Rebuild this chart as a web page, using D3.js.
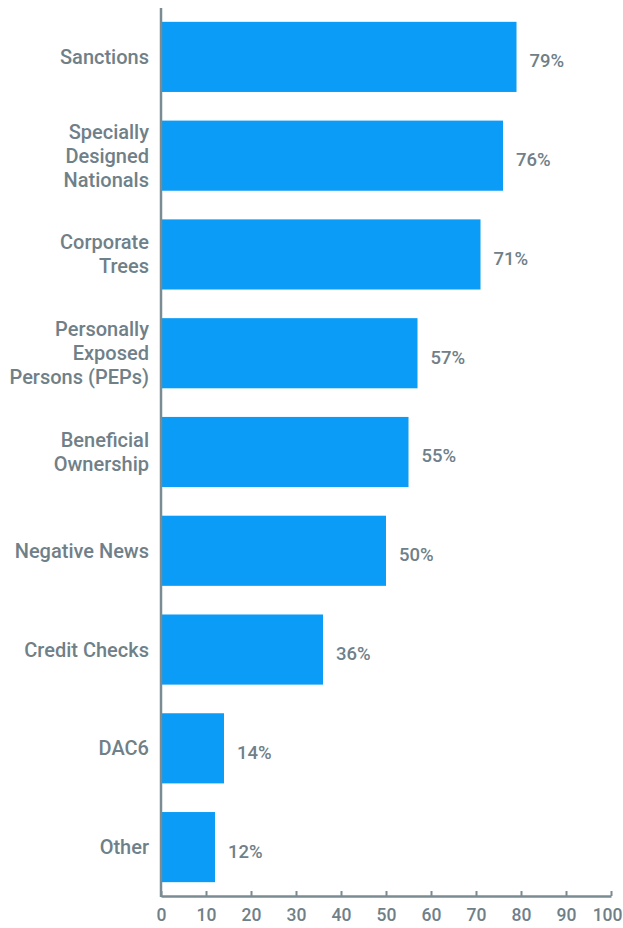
<!DOCTYPE html>
<html>
<head>
<meta charset="utf-8">
<script src="https://cdn.jsdelivr.net/npm/d3@7"></script>
<style>
  body { margin: 0; background: #fff; }
  svg text { font-family: Roboto, "Noto Sans", sans-serif; font-weight: 500; fill: #6f8088; }
</style>
</head>
<body>
<div id="chart"></div>
<script>
// data
var categories = ["Sanctions", "Specially Designed Nationals", "Corporate Trees",
    "Personally Exposed Persons (PEPs)", "Beneficial Ownership", "Negative News",
    "Credit Checks", "DAC6", "Other"];
var labelLines = [["Sanctions"], ["Specially", "Designed", "Nationals"], ["Corporate", "Trees"],
    ["Personally", "Exposed", "Persons (PEPs)"], ["Beneficial", "Ownership"], ["Negative News"],
    ["Credit Checks"], ["DAC6"], ["Other"]];
var values = [79, 76, 71, 57, 55, 50, 36, 14, 12];
var xTicks = [0, 10, 20, 30, 40, 50, 60, 70, 80, 90, 100];

var W = 623, H = 928;
var svg = d3.select('#chart').append('svg')
    .attr('width', W)
    .attr('height', H);

var x = d3.scaleLinear().domain([0, 100]).range([161, 611]);
var y = d3.scaleBand().domain(categories).range([8, 896])
    .paddingInner(0.29).paddingOuter(0.14);

var data = categories.map(function(c, i) {
    return {name: c, value: values[i], lines: labelLines[i]};
});

// bars
svg.selectAll('.bar')
    .data(data)
  .enter().append('rect')
    .attr('class', 'bar')
    .attr('x', x(0))
    .attr('y', function(d) { return y(d.name); })
    .attr('width', function(d) { return x(d.value) - x(0); })
    .attr('height', y.bandwidth())
    .attr('fill', '#0a9cf6');

// value labels
svg.selectAll('.val')
    .data(data)
  .enter().append('text')
    .attr('class', 'val')
    .attr('x', function(d) { return x(d.value) + 13; })
    .attr('y', function(d) { return y(d.name) + y.bandwidth() / 2 + 4; })
    .attr('dy', '0.35em')
    .style('font-size', '18.5px')
    .text(function(d) { return d.value + '%'; });

// category labels, multi-line, right aligned
var lineH = 24;
var cat = svg.selectAll('.cat')
    .data(data)
  .enter().append('text')
    .attr('class', 'cat')
    .attr('text-anchor', 'end')
    .style('font-size', '20px')
    .attr('transform', function(d) {
        var cy = y(d.name) + y.bandwidth() / 2 - (d.lines.length - 1) * lineH / 2;
        return 'translate(149,' + cy + ')';
    });
cat.selectAll('tspan')
    .data(function(d) { return d.lines; })
  .enter().append('tspan')
    .attr('x', 0)
    .attr('y', function(d, i) { return i * lineH; })
    .attr('dy', '0.35em')
    .text(function(d) { return d; });

// x axis with inward ticks
var xAxis = d3.axisBottom(x).tickValues(xTicks).tickSize(-5).tickSizeOuter(0).tickPadding(13);
var gx = svg.append('g')
    .attr('transform', 'translate(0,896)')
    .call(xAxis);
gx.select('.domain').attr('stroke', '#7a8b92').attr('stroke-width', 2.5);
gx.selectAll('.tick line').attr('stroke', '#7a8b92').attr('stroke-width', 2);
gx.selectAll('.tick text').style('font-size', '17.5px').attr('fill', '#72838b');
// keep the last label inside the frame
gx.selectAll('.tick text').filter(function(d) { return d === 100; })
    .attr('text-anchor', 'end').attr('x', 11);

// y axis line
svg.append('line')
    .attr('x1', x(0)).attr('x2', x(0))
    .attr('y1', 8).attr('y2', 897)
    .attr('stroke', '#7a8b92')
    .attr('stroke-width', 2.5);
</script>
</body>
</html>
